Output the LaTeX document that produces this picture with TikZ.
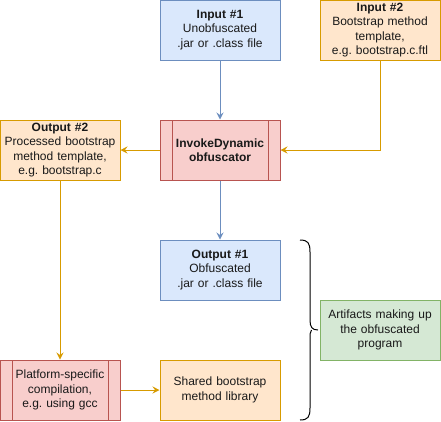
\documentclass[tikz,border=0pt]{standalone}
\usepackage{fontspec}
\setmainfont{Liberation Sans}
\frenchspacing
\usetikzlibrary{arrows.meta}
\definecolor{bfill}{HTML}{DAE8FC}\definecolor{bline}{HTML}{6C8EBF}
\definecolor{ofill}{HTML}{FFE6CC}\definecolor{oline}{HTML}{D79B00}
\definecolor{rfill}{HTML}{F8CECC}\definecolor{rline}{HTML}{B85450}
\definecolor{gfill}{HTML}{D5E8D4}\definecolor{gline}{HTML}{82B366}
\tikzset{
  box/.style={draw, line width=1pt, minimum width=120pt, minimum height=60pt, inner sep=0pt, align=center, text width=118pt, font=\fontsize{12}{14.4}\selectfont\frenchspacing, text=black!90},
  bluebox/.style={box, fill=bfill, draw=bline},
  orangebox/.style={box, fill=ofill, draw=oline},
  redbox/.style={box, fill=rfill, draw=rline},
  greenbox/.style={box, fill=gfill, draw=gline},
  conn/.style={line width=1pt, -{Stealth[length=7pt,width=7pt,inset=2.5pt]}},
  bconn/.style={conn, draw=bline, color=bline},
  oconn/.style={conn, draw=oline, color=oline},
}
\begin{document}
\begin{tikzpicture}[x=1pt,y=-1pt]
\useasboundingbox (0,0) rectangle (441,421);
\node[bluebox] (in1) at (220,30) {\textbf{Input \#1}\\Unobfuscated\\.jar or .class file};
\node[orangebox] (in2) at (380,30) {\textbf{Input \#2}\\Bootstrap method\\template,\\e.g. bootstrap.c.ftl};
\node[redbox] (obf) at (220,150) {\textbf{InvokeDynamic}\\\textbf{obfuscator}};
\draw[rline, line width=1pt] (172,120) -- (172,180) (268,120) -- (268,180);
\node[orangebox] (out2) at (60,150) {\textbf{Output \#2}\\Processed bootstrap\\method template,\\e.g. bootstrap.c};
\node[bluebox] (out1) at (220,270) {\textbf{Output \#1}\\Obfuscated\\.jar or .class file};
\node[greenbox] (art) at (380,330) {Artifacts making up\\the obfuscated\\program};
\node[redbox] (plat) at (60,390) {Platform-specific\\compilation,\\e.g. using gcc};
\draw[rline, line width=1pt] (12,360) -- (12,420) (108,360) -- (108,420);
\node[orangebox] (lib) at (220,390) {Shared bootstrap\\method library};
\draw[bconn] (in1) -- (obf);
\draw[oconn] (in2.south) |- (obf.east);
\draw[oconn] (obf) -- (out2);
\draw[bconn] (obf) -- (out1);
\draw[oconn] (out2.south) -- (plat.north);
\draw[oconn] (plat) -- (lib);
\coordinate (brtop) at (300,240);
\coordinate (brbot) at (300,420);
\coordinate (brtip) at (318,330);
\draw[line width=1pt, black] (brtop) .. controls (308,240) and (310,243) .. (310,252) -- (310,320) .. controls (310,327) and (312,330) .. (brtip)
  (311.5,330) .. controls (310,333) .. (310,340) -- (310,408) .. controls (310,417) and (308,420) .. (brbot);
\end{tikzpicture}
\end{document}
